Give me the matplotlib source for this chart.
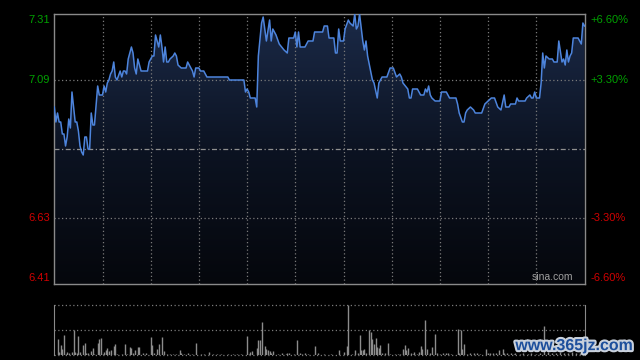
import numpy as np
import matplotlib
matplotlib.use('Agg')
import matplotlib.pyplot as plt
import matplotlib.patheffects as pe
from matplotlib.colors import LinearSegmentedColormap

plt.rcParams['font.family'] = ['Liberation Sans', 'DejaVu Sans']

prev_close = 6.86
y_lo, y_hi = 6.41, 7.31
left_ticks = [7.31, 7.09, 6.63, 6.41]
left_labels = ['7.31', '7.09', '6.63', '6.41']
right_labels = ['+6.60%', '+3.30%', '-3.30%', '-6.60%']
n_minutes = 330

# intraday minute (0..330) and price at each turning point of the line
minutes = [0, 1, 2, 3, 4, 5, 6, 7, 8, 9, 10, 11, 13, 14, 15, 16, 17, 18, 19, 20,
           21, 22, 23, 24, 25, 27, 28, 30, 31, 32, 33, 34, 35, 36, 37, 38, 39, 41,
           42, 43, 44, 45, 46, 48, 49, 50, 51, 52, 54, 58, 59, 60, 61, 62, 63, 64,
           65, 66, 67, 68, 69, 70, 71, 72, 74, 75, 76, 77, 79, 82, 83, 84, 86, 87,
           88, 90, 91, 93, 95, 108, 109, 118, 119, 120, 121, 122, 125, 126, 127,
           129, 130, 132, 134, 135, 136, 138, 140, 143, 145, 146, 149, 150, 151,
           152, 153, 156, 158, 161, 162, 167, 168, 170, 171, 174, 175, 176, 177,
           178, 180, 181, 183, 184, 186, 187, 188, 189, 190, 192, 193, 194, 195,
           198, 199, 201, 202, 204, 207, 209, 211, 213, 215, 216, 217, 220, 221,
           222, 223, 226, 228, 230, 231, 232, 233, 234, 235, 237, 240, 241, 244,
           246, 250, 251, 252, 254, 255, 256, 257, 259, 261, 262, 266, 268, 270,
           272, 274, 276, 278, 280, 281, 283, 284, 287, 288, 289, 293, 294, 296,
           297, 298, 299, 300, 302, 303, 304, 305, 306, 308, 310, 311, 312, 313,
           314, 316, 317, 318, 319, 320, 321, 322, 323, 326, 327, 328, 329, 330]
prices = [7.00, 6.95, 6.98, 6.95, 6.95, 6.91, 6.91, 6.87, 6.90, 6.96, 6.93, 7.05,
          6.95, 6.95, 6.92, 6.87, 6.85, 6.84, 6.90, 6.90, 6.86, 6.86, 6.98, 6.94,
          6.94, 7.07, 7.04, 7.04, 7.07, 7.05, 7.08, 7.09, 7.11, 7.12, 7.15, 7.10,
          7.09, 7.12, 7.10, 7.12, 7.12, 7.11, 7.16, 7.20, 7.18, 7.13, 7.11, 7.16,
          7.12, 7.12, 7.15, 7.16, 7.17, 7.17, 7.24, 7.22, 7.20, 7.24, 7.20, 7.15,
          7.20, 7.15, 7.15, 7.16, 7.17, 7.18, 7.17, 7.14, 7.13, 7.13, 7.15, 7.14,
          7.12, 7.10, 7.13, 7.13, 7.12, 7.12, 7.10, 7.10, 7.09, 7.09, 7.05, 7.06,
          7.05, 7.03, 7.03, 7.00, 7.17, 7.28, 7.30, 7.22, 7.29, 7.22, 7.26, 7.24,
          7.21, 7.19, 7.18, 7.23, 7.23, 7.25, 7.20, 7.25, 7.20, 7.20, 7.22, 7.22,
          7.25, 7.25, 7.27, 7.27, 7.23, 7.23, 7.18, 7.18, 7.26, 7.22, 7.22, 7.26,
          7.29, 7.28, 7.27, 7.31, 7.26, 7.27, 7.31, 7.22, 7.19, 7.22, 7.17, 7.09,
          7.08, 7.03, 7.08, 7.10, 7.10, 7.13, 7.13, 7.10, 7.11, 7.10, 7.08, 7.06,
          7.03, 7.03, 7.06, 7.06, 7.04, 7.04, 7.06, 7.05, 7.07, 7.04, 7.03, 7.02,
          7.02, 7.05, 7.05, 7.03, 7.03, 7.01, 6.98, 6.95, 6.95, 6.98, 6.99, 7.00,
          6.99, 6.98, 6.98, 7.01, 7.02, 7.03, 7.03, 7.00, 6.99, 7.04, 7.00, 7.00,
          7.01, 7.01, 7.03, 7.02, 7.02, 7.03, 7.04, 7.03, 7.03, 7.05, 7.03, 7.03,
          7.08, 7.18, 7.13, 7.17, 7.16, 7.16, 7.15, 7.15, 7.15, 7.22, 7.15, 7.16,
          7.14, 7.19, 7.15, 7.17, 7.18, 7.23, 7.23, 7.22, 7.21, 7.28, 7.27]

# volume bars (minute, relative volume)
vol_minutes = [2, 3, 4, 5, 6, 7, 8, 9, 11, 12, 13, 14, 15, 16, 18, 19, 20, 21, 23,
               24, 25, 27, 28, 29, 30, 31, 32, 33, 34, 35, 37, 38, 39, 42, 44, 45,
               47, 48, 49, 50, 52, 53, 55, 57, 60, 61, 62, 64, 65, 67, 68, 70, 72,
               74, 76, 78, 79, 81, 83, 86, 88, 91, 93, 96, 99, 101, 104, 108, 111,
               114, 116, 120, 121, 122, 123, 126, 127, 128, 129, 131, 132, 133, 134,
               135, 136, 139, 142, 144, 145, 146, 149, 151, 153, 154, 156, 158, 162,
               164, 168, 172, 177, 180, 182, 183, 185, 187, 189, 190, 191, 192, 193,
               194, 196, 197, 198, 199, 200, 201, 202, 203, 204, 206, 208, 209, 212,
               214, 215, 217, 218, 219, 220, 222, 223, 224, 226, 227, 228, 229, 231,
               232, 234, 235, 237, 238, 240, 242, 244, 245, 247, 251, 252, 253, 254,
               255, 257, 259, 261, 263, 265, 269, 270, 271, 273, 275, 277, 279, 280,
               282, 284, 286, 287, 290, 292, 295, 297, 300, 302, 305, 307, 310, 312,
               315, 317, 320, 322, 325, 327, 329]
volumes = [16, 3, 10, 6, 20, 1, 3, 2, 3, 25, 3, 2, 19, 3, 10, 12, 2, 2, 4, 7, 1,
           12, 16, 17, 1, 3, 5, 7, 4, 5, 9, 11, 1, 1, 11, 1, 8, 7, 2, 5, 8, 8, 2,
           2, 18, 10, 2, 6, 11, 18, 4, 1, 1, 1, 1, 5, 2, 1, 2, 1, 12, 1, 1, 3, 1,
           1, 1, 1, 1, 1, 1, 19, 1, 3, 4, 7, 15, 15, 33, 9, 6, 5, 4, 2, 4, 1, 2,
           1, 2, 2, 1, 15, 2, 1, 2, 1, 9, 2, 1, 1, 5, 3, 9, 50, 1, 5, 2, 20, 5, 5,
           6, 2, 25, 23, 16, 11, 17, 8, 7, 10, 2, 2, 12, 1, 1, 1, 1, 6, 10, 5, 7,
           2, 1, 3, 1, 3, 9, 6, 35, 6, 2, 8, 21, 2, 1, 2, 2, 2, 1, 26, 2, 25, 6,
           11, 1, 2, 2, 2, 1, 6, 2, 2, 2, 2, 5, 6, 2, 2, 2, 1, 2, 1, 2, 1, 2, 1, 2,
           29, 3, 2, 2, 3, 2, 2, 3, 2, 2, 3]

fig = plt.figure(figsize=(6.4, 3.6), dpi=100, facecolor='black')
ax = fig.add_axes([54.3 / 640, 1 - 284 / 360, 530.2 / 640, 270 / 360])
axv = fig.add_axes([54.3 / 640, 1 - 354.7 / 360, 530.2 / 640, 50 / 360])

grid_c = '#7a7a7a'
dot = (0, (1, 2))

# price panel
ax.set_facecolor('black')
ax.set_xlim(0, n_minutes)
ax.set_ylim(y_lo, y_hi)

poly = ax.fill_between(minutes, prices, y_lo, color='none', lw=0)
cmap = LinearSegmentedColormap.from_list('fill', ['#05070c', '#0c1322', '#1b2a48'])
grad = np.linspace(0, 1, 256).reshape(-1, 1)
im = ax.imshow(grad, extent=[0, n_minutes, y_lo, y_hi], origin='lower',
               aspect='auto', cmap=cmap, zorder=1)
im.set_clip_path(poly.get_paths()[0], transform=ax.transData)

for i in range(1, 11):
    ax.axvline(i * 30, color=grid_c, lw=0.9, ls=dot, zorder=2)
for v in [7.09, 6.63]:
    ax.axhline(v, color=grid_c, lw=0.9, ls=dot, zorder=2)
ax.axhline(prev_close, color='#909090', lw=0.9, ls=(0, (4, 2, 1, 2)), zorder=2)

ax.plot(minutes, prices, color='#4d84dc', lw=1.1, zorder=3)

ax.set_xticks([])
ax.set_yticks([])
for s in ax.spines.values():
    s.set_color('#8a8a8a')
    s.set_linewidth(1)

tr = ax.get_yaxis_transform()
vas = ['top', 'center', 'center', 'bottom']
offs = [-0.004, 0, 0, 0.004]
for v, lab, rlab, va, o in zip(left_ticks, left_labels, right_labels, vas, offs):
    col = '#00a000' if v > prev_close else '#d00000'
    ax.text(-0.008, v + o, lab, transform=tr, ha='right', va=va,
            color=col, fontsize=8)
    ax.text(1.011, v + o, rlab, transform=tr, ha='left', va=va,
            color=col, fontsize=8)

ax.text(0.978, 0.008, 'sina.com', transform=ax.transAxes, ha='right',
        va='bottom', color='#a0a0a0', fontsize=7.5)

# volume panel
axv.set_facecolor('black')
axv.set_xlim(0, n_minutes)
axv.set_ylim(0, max(volumes))
axv.vlines(vol_minutes, 0, volumes, color='#8c8c8c', lw=1)
for v in [0, max(volumes) / 2, max(volumes)]:
    axv.axhline(v, color=grid_c, lw=0.9, ls=dot, clip_on=False)
axv.set_xticks([])
axv.set_yticks([])
for k in ['top', 'bottom']:
    axv.spines[k].set_visible(False)
for k in ['left', 'right']:
    axv.spines[k].set_color('#8a8a8a')

fig.text(0.99, 0.04, 'www.365jz.com', ha='right', va='center',
         color='#1d4f9c', fontsize=11.5, fontweight='bold',
         path_effects=[pe.withStroke(linewidth=3, foreground='#c9d1dc')])

fig.savefig('out.png', dpi=100, facecolor='black')
